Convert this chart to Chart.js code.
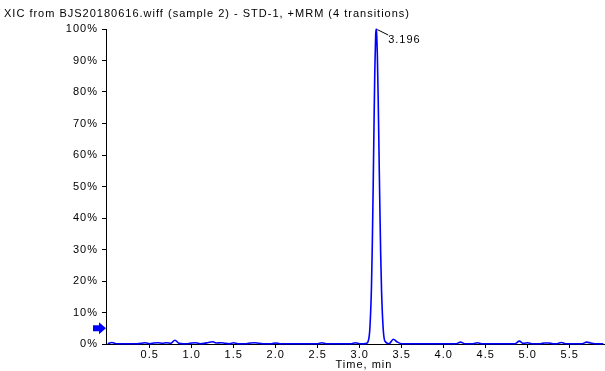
<!DOCTYPE html>
<html>
<head>
<meta charset="utf-8">
<script src="https://cdn.jsdelivr.net/npm/chart.js@4"></script>
<style>
  html, body { margin: 0; padding: 0; background: #fff; }
  #wrap { width: 605px; height: 371px; }
</style>
</head>
<body>
<div id="wrap"><canvas id="c" width="605" height="371"></canvas></div>
<script>
// ---- data ----
const chartTitle = "XIC from BJS20180616.wiff (sample 2) - STD-1, +MRM (4 transitions)";
const xAxisTitle = "Time, min";
const xTickValues = [0.5, 1.0, 1.5, 2.0, 2.5, 3.0, 3.5, 4.0, 4.5, 5.0, 5.5];
const yTickValues = [0, 10, 20, 30, 40, 50, 60, 70, 80, 90, 100];
const peakTime = 3.196;
const peakLabel = "3.196";
const arrowLevel = 5;

const times = [
  0.00,0.05,0.10,0.15,0.20,0.25,0.30,0.35,0.40,0.45,0.50,0.55,0.60,0.65,0.70,0.75,0.80,0.85,0.90,0.95,
  1.00,1.05,1.10,1.15,1.20,1.25,1.30,1.35,1.40,1.45,1.50,1.55,1.60,1.65,1.70,1.75,1.80,1.85,1.90,1.95,
  2.00,2.05,2.10,2.15,2.20,2.25,2.30,2.35,2.40,2.45,2.50,2.55,2.60,2.65,2.70,2.75,2.80,2.85,2.90,2.95,
  3.00,3.05,3.08,3.10,3.12,3.14,3.15,3.16,3.17,3.18,3.19,3.196,3.20,3.21,3.22,3.23,3.24,3.25,3.26,3.28,3.30,3.35,
  3.40,3.45,3.50,3.55,3.60,3.65,3.70,3.75,3.80,3.85,3.90,3.95,
  4.00,4.05,4.10,4.15,4.20,4.25,4.30,4.35,4.40,4.45,4.50,4.55,4.60,4.65,4.70,4.75,4.80,4.85,4.90,4.95,
  5.00,5.05,5.10,5.15,5.20,5.25,5.30,5.35,5.40,5.45,5.50,5.55,5.60,5.65,5.70,5.75,5.80,5.85,5.90
];

const intensity = [
  0.1,0.5,0.1,0.1,0.1,0.1,0.1,0.1,0.2,0.4,0.1,0.3,0.4,0.2,0.4,0.2,1.2,0.2,0.1,0.1,
  0.3,0.4,0.1,0.2,0.5,0.7,0.3,0.4,0.2,0.1,0.4,0.1,0.1,0.1,0.3,0.4,0.2,0.1,0.1,0.1,
  0.3,0.1,0.1,0.1,0.1,0.1,0.1,0.1,0.1,0.1,0.1,0.4,0.1,0.1,0.1,0.1,0.1,0.1,0.1,0.4,
  0.1,0.1,0.2,0.8,4.5,18.0,31.5,49.0,69.0,87.0,98.0,100,99.3,91.9,78.0,60.7,43.3,28.3,17.0,4.7,0.9,0.1,
  1.5,0.6,0.1,0.1,0.1,0.1,0.1,0.1,0.1,0.1,0.1,0.1,
  0.1,0.1,0.1,0.1,0.6,0.1,0.1,0.1,0.4,0.1,0.1,0.1,0.1,0.1,0.1,0.1,0.1,0.1,0.9,0.2,
  0.4,0.1,0.1,0.1,0.3,0.3,0.1,0.1,0.5,0.1,0.1,0.1,0.1,0.1,0.6,0.3,0.1,0.1,0.1
];

// ---- chart ----
const FONT = "'Liberation Sans', Arial, Helvetica, sans-serif";
const SPACING = '1px';

const decorations = {
  id: 'decorations',
  beforeLayout(chart) { chart.ctx.letterSpacing = SPACING; },
  beforeDraw(chart) { chart.ctx.letterSpacing = SPACING; },
  afterDatasetsDraw(chart) {
    const ctx = chart.ctx;
    const xs = chart.scales.x, ys = chart.scales.y;
    const px = xs.getPixelForValue(peakTime);
    const py = ys.getPixelForValue(100);
    ctx.save();
    ctx.letterSpacing = SPACING;
    ctx.strokeStyle = '#000';
    ctx.lineWidth = 1;
    ctx.beginPath();
    ctx.moveTo(px + 1, py + 0.5);
    ctx.lineTo(px + 12, py + 6);
    ctx.stroke();
    ctx.fillStyle = '#000';
    ctx.font = '11px ' + FONT;
    ctx.textAlign = 'left';
    ctx.textBaseline = 'middle';
    ctx.fillText(peakLabel, px + 12, py + 11);
    // arrow marker on the y axis
    const ay = ys.getPixelForValue(arrowLevel);
    const ax = chart.chartArea.left;
    ctx.fillStyle = '#0000ff';
    ctx.beginPath();
    ctx.moveTo(ax - 13, ay - 3);
    ctx.lineTo(ax - 7, ay - 3);
    ctx.lineTo(ax - 7, ay - 6);
    ctx.lineTo(ax, ay);
    ctx.lineTo(ax - 7, ay + 6);
    ctx.lineTo(ax - 7, ay + 3);
    ctx.lineTo(ax - 13, ay + 3);
    ctx.closePath();
    ctx.fill();
    // x axis title
    ctx.fillStyle = '#000';
    ctx.textAlign = 'center';
    ctx.textBaseline = 'middle';
    ctx.fillText(xAxisTitle, 364, 365);
    ctx.restore();
  }
};

new Chart(document.getElementById('c'), {
  type: 'line',
  data: {
    datasets: [
      {
        label: 'XIC',
        data: times.map((t, i) => ({ x: t, y: intensity[i] })),
        borderColor: '#0000ff',
        borderWidth: 1.6,
        pointRadius: 0,
        fill: false,
        cubicInterpolationMode: 'monotone',
        clip: 3
      }
    ]
  },
  options: {
    responsive: false,
    animation: false,
    devicePixelRatio: 1,
    layout: { padding: { left: 4, right: 0, top: 0, bottom: 0 } },
    plugins: {
      legend: { display: false },
      tooltip: { enabled: false },
      title: {
        display: true,
        text: chartTitle,
        align: 'start',
        color: '#000',
        font: { family: FONT, size: 11, weight: 'normal' },
        padding: { top: 7, bottom: 8.8 }
      }
    },
    scales: {
      x: {
        type: 'linear',
        min: -0.02,
        max: 5.92,
        afterBuildTicks(scale) { scale.ticks = xTickValues.map(v => ({ value: v })); },
        afterFit(scale) { scale.height = 27; },
        ticks: {
          color: '#000',
          font: { family: FONT, size: 11 },
          padding: 0,
          maxRotation: 0,
          autoSkip: false,
          callback: v => Number(v).toFixed(1)
        },
        grid: { display: true, drawOnChartArea: false, drawTicks: true, tickLength: 4, color: '#000' },
        border: { display: true, color: '#000', width: 1 }
      },
      y: {
        min: 0,
        max: 100,
        afterBuildTicks(scale) { scale.ticks = yTickValues.map(v => ({ value: v })); },
        afterFit(scale) { scale.width = 102; },
        ticks: {
          color: '#000',
          font: { family: FONT, size: 11 },
          padding: 4,
          autoSkip: false,
          callback: v => v + '%'
        },
        grid: { display: true, drawOnChartArea: false, drawTicks: true, tickLength: 4, color: '#000' },
        border: { display: true, color: '#000', width: 1 }
      }
    }
  },
  plugins: [decorations]
});
</script>
</body>
</html>
